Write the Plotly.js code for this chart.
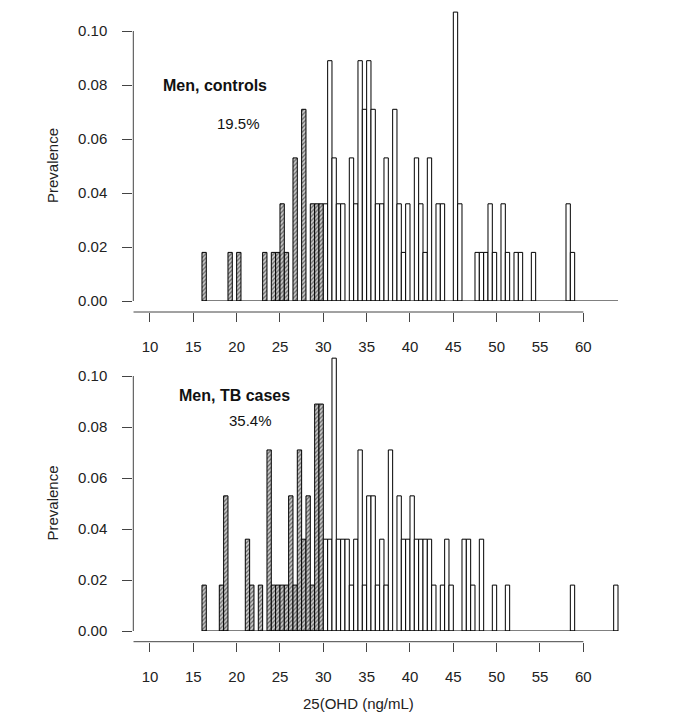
<!DOCTYPE html>
<html>
<head>
<meta charset="utf-8">
<script src="https://cdn.plot.ly/plotly-3.0.1.min.js"></script>
<style>
  html, body { margin: 0; padding: 0; background: #fff; }
  #chart { width: 680px; height: 720px; }
</style>
</head>
<body>
<div id="chart"></div>
<script>
// 25(OHD) distribution in men, 0.5 ng/mL bins (left edge of each bin)
const binWidth = 0.5;

// controls, below 30 ng/mL (hatched) and 30+ (open)
const ctrlLowBins = [16, 19, 20, 23, 24, 24.5, 25, 25.5, 26.5, 27.5, 28.5, 29, 29.5];
const ctrlLowPrev = [0.018, 0.018, 0.018, 0.018, 0.018, 0.018, 0.036, 0.018, 0.053, 0.071, 0.036, 0.036, 0.036];
const ctrlHighBins = [30, 30.5, 31, 31.5, 32, 33, 33.5, 34, 34.5, 35, 35.5, 36, 36.5, 37, 38, 38.5, 39, 39.5,
	40.5, 41, 41.5, 42, 43, 43.5, 45, 45.5, 47.5, 48, 48.5, 49, 49.5, 50.5, 51, 52, 52.5, 54, 58, 58.5];
const ctrlHighPrev = [0.036, 0.089, 0.053, 0.036, 0.036, 0.053, 0.036, 0.089, 0.071, 0.089, 0.071, 0.036, 0.036, 0.053, 0.071, 0.036, 0.018, 0.036,
	0.053, 0.036, 0.018, 0.053, 0.036, 0.036, 0.107, 0.036, 0.018, 0.018, 0.018, 0.036, 0.018, 0.036, 0.018, 0.018, 0.018, 0.018, 0.036, 0.018];

// TB cases
const caseLowBins = [16, 18, 18.5, 21, 21.5, 22.5, 23.5, 24, 24.5, 25, 25.5, 26, 26.5, 27, 27.5, 28, 28.5, 29, 29.5];
const caseLowPrev = [0.018, 0.018, 0.053, 0.036, 0.018, 0.018, 0.071, 0.018, 0.018, 0.018, 0.018, 0.053, 0.018, 0.071, 0.036, 0.053, 0.018, 0.089, 0.089];
const caseHighBins = [30, 30.5, 31, 31.5, 32, 32.5, 33, 33.5, 34, 34.5, 35, 35.5, 36, 36.5, 37, 37.5, 38.5, 39, 39.5, 40,
	40.5, 41, 41.5, 42, 42.5, 43.5, 44, 44.5, 46, 46.5, 47, 48, 49.5, 51, 58.5, 63.5];
const caseHighPrev = [0.036, 0.036, 0.107, 0.036, 0.036, 0.036, 0.018, 0.036, 0.071, 0.018, 0.053, 0.053, 0.018, 0.036, 0.018, 0.071, 0.053, 0.036, 0.036, 0.053,
	0.036, 0.036, 0.036, 0.036, 0.018, 0.018, 0.036, 0.018, 0.036, 0.036, 0.018, 0.036, 0.018, 0.018, 0.018, 0.018];

const xTicks = [10, 15, 20, 25, 30, 35, 40, 45, 50, 55, 60];
const yTicks = [0, 0.02, 0.04, 0.06, 0.08, 0.10];
const yTickText = ["0.00", "0.02", "0.04", "0.06", "0.08", "0.10"];

const panelLabels = ["Men, controls", "Men, TB cases"];
const panelPercents = ["19.5%", "35.4%"];
const yTitle = "Prevalence";
const xTitle = "25(OHD (ng/mL)";

const FONT = "Liberation Sans, Arial, Helvetica, sans-serif";
const AXIS_COL = "#444";
const TEXT_COL = "#222";

function hatched(bins, prev, xa, ya) {
	return {
		type: "bar", x: bins, y: prev, xaxis: xa, yaxis: ya,
		width: binWidth, offset: 0,
		marker: {
			color: "#cacaca",
			line: { color: "#000", width: 1 },
			pattern: { shape: "/", fgcolor: "#666", bgcolor: "#cacaca", size: 3, solidity: 0.4 }
		},
		hoverinfo: "x+y"
	};
}

function open(bins, prev, xa, ya) {
	return {
		type: "bar", x: bins, y: prev, xaxis: xa, yaxis: ya,
		width: binWidth, offset: 0,
		marker: { color: "#fff", line: { color: "#000", width: 1 } },
		hoverinfo: "x+y"
	};
}

function baseline(bins, xa, ya) {
	const lo = Math.min(...bins);
	const hi = Math.max(...bins) + binWidth;
	return {
		type: "scatter", mode: "lines", x: [lo, hi], y: [0, 0],
		xaxis: xa, yaxis: ya,
		line: { color: "#000", width: 1 }, hoverinfo: "skip"
	};
}

const allBins = ctrlLowBins.concat(ctrlHighBins, caseLowBins, caseHighBins);

const traces = [
	baseline(allBins, "x", "y"),
	hatched(ctrlLowBins, ctrlLowPrev, "x", "y"),
	open(ctrlHighBins, ctrlHighPrev, "x", "y"),
	baseline(allBins, "x2", "y2"),
	hatched(caseLowBins, caseLowPrev, "x2", "y2"),
	open(caseHighBins, caseHighPrev, "x2", "y2")
];

// 8.667 px per ng/mL; axis starts at x=133 px, data reach ~620 px
const xRange = [8.077, 64.3];
const xDomain = [133.3 / 680, 620.6 / 680];
const yRange = [0, 0.11];

// pixel rows (from top) of y=0 and px per prevalence unit, per panel
const topZero = 301, topScale = 2700, topAxisRow = 312;
const botZero = 631, botScale = 2550, botAxisRow = 641.7;

function paperY(row) {
	return (720 - row) / 720;
}

function yDomain(zero, scale) {
	return [paperY(zero), paperY(zero - yRange[1] * scale)];
}

function xAxis(row) {
	return {
		domain: xDomain, range: xRange, anchor: "free", position: paperY(row),
		tickvals: xTicks, ticks: "outside", ticklen: 9, tickcolor: AXIS_COL,
		showline: false, showgrid: false, zeroline: false, ticklabelstandoff: 12,
		tickfont: { size: 15, color: TEXT_COL }
	};
}

function yAxis(domain, anchor) {
	return {
		domain: domain, range: yRange, anchor: anchor,
		tickvals: yTicks, ticktext: yTickText, ticks: "outside", ticklen: 10, tickcolor: AXIS_COL,
		showline: false, showgrid: false, zeroline: false, ticklabelstandoff: 12,
		tickfont: { size: 15, color: TEXT_COL }
	};
}

// R-style axis lines: y from first to last tick, x from axis start to last tick
function axisLines(xa, ya, row) {
	return [
		{ type: "line", xref: xa + " domain", yref: ya, x0: 0, x1: 0,
			y0: yTicks[0], y1: yTicks[yTicks.length - 1], line: { color: AXIS_COL, width: 1 } },
		{ type: "line", xref: xa, yref: "paper", x0: xRange[0], x1: xTicks[xTicks.length - 1],
			y0: paperY(row), y1: paperY(row), line: { color: AXIS_COL, width: 1 } }
	];
}

function note(text, x, y, xa, ya, bold) {
	return {
		text: bold ? "<b>" + text + "</b>" : text,
		x: x, y: y, xref: xa, yref: ya, showarrow: false,
		xanchor: "center", yanchor: "middle",
		font: { size: bold ? 16 : 15, color: "#111", family: FONT }
	};
}

// axis titles centred on the drawn axis lines, as in the R figure
function yTitleNote(ya) {
	return {
		text: yTitle, textangle: -90, showarrow: false,
		xref: "paper", x: 52 / 680, yref: ya, y: (yTicks[0] + yTicks[yTicks.length - 1]) / 2,
		xanchor: "center", yanchor: "middle",
		font: { size: 15, color: TEXT_COL, family: FONT }
	};
}

const xTitleNote = {
	text: xTitle, showarrow: false,
	xref: "x2", x: (xRange[0] + xTicks[xTicks.length - 1]) / 2,
	yref: "paper", y: paperY(703),
	xanchor: "center", yanchor: "middle",
	font: { size: 15, color: TEXT_COL, family: FONT }
};

const layout = {
	width: 680, height: 720,
	margin: { l: 0, r: 0, t: 0, b: 0 },
	paper_bgcolor: "#fff", plot_bgcolor: "#fff",
	font: { family: FONT, color: TEXT_COL },
	showlegend: false, barmode: "overlay", bargap: 0,
	xaxis: xAxis(topAxisRow),
	yaxis: yAxis(yDomain(topZero, topScale), "x"),
	xaxis2: xAxis(botAxisRow),
	yaxis2: yAxis(yDomain(botZero, botScale), "x2"),
	shapes: axisLines("x", "y", topAxisRow).concat(axisLines("x2", "y2", botAxisRow)),
	annotations: [
		note(panelLabels[0], 17.5, 0.0797, "x", "y", true),
		note(panelPercents[0], 20.2, 0.0656, "x", "y", false),
		note(panelLabels[1], 19.7, 0.0925, "x2", "y2", true),
		note(panelPercents[1], 21.6, 0.0827, "x2", "y2", false),
		yTitleNote("y"),
		yTitleNote("y2"),
		xTitleNote
	]
};

Plotly.newPlot("chart", traces, layout, { staticPlot: true, displayModeBar: false });
</script>
</body>
</html>
